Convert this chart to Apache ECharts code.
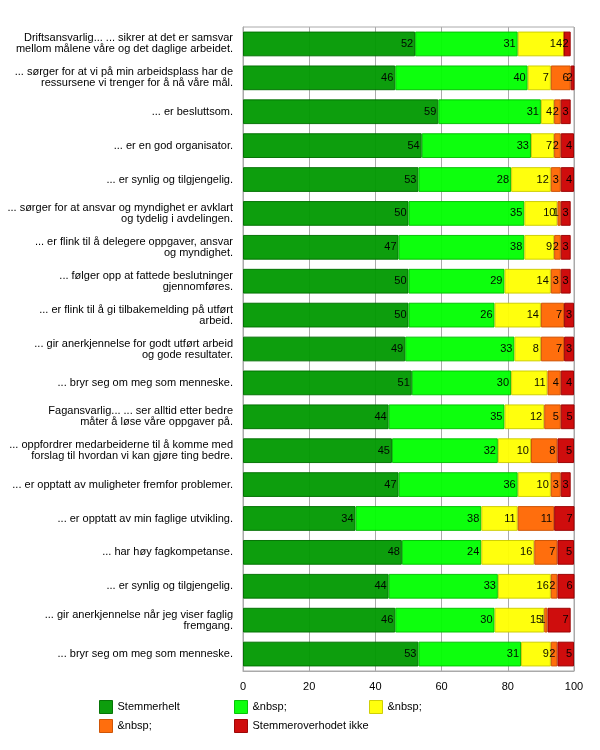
<!DOCTYPE html>
<html>
<head>
<meta charset="utf-8">
<script src="https://cdn.jsdelivr.net/npm/echarts@6/dist/echarts.min.js"></script>
<style>html,body{margin:0;padding:0;background:#fff}#c{width:600px;height:750px}</style>
</head>
<body>
<div id="c"></div>
<script>
const categories = [
  "Driftsansvarlig... ... sikrer at det er samsvar\nmellom målene våre og det daglige arbeidet.",
  "... sørger for at vi på min arbeidsplass har de\nressursene vi trenger for å nå våre mål.",
  "... er besluttsom.",
  "... er en god organisator.",
  "... er synlig og tilgjengelig.",
  "... sørger for at ansvar og myndighet er avklart\nog tydelig i avdelingen.",
  "... er flink til å delegere oppgaver, ansvar\nog myndighet.",
  "... følger opp at fattede beslutninger\ngjennomføres.",
  "... er flink til å gi tilbakemelding på utført\narbeid.",
  "... gir anerkjennelse for godt utført arbeid\nog gode resultater.",
  "... bryr seg om meg som menneske.",
  "Fagansvarlig... ... ser alltid etter bedre\nmåter å løse våre oppgaver på.",
  "... oppfordrer medarbeiderne til å komme med\nforslag til hvordan vi kan gjøre ting bedre.",
  "... er opptatt av muligheter fremfor problemer.",
  "... er opptatt av min faglige utvikling.",
  "... har høy fagkompetanse.",
  "... er synlig og tilgjengelig.",
  "... gir anerkjennelse når jeg viser faglig\nfremgang.",
  "... bryr seg om meg som menneske."
];
const stemmerHelt   = [52,46,59,54,53,50,47,50,50,49,51,44,45,47,34,48,44,46,53];
const level2        = [31,40,31,33,28,35,38,29,26,33,30,35,32,36,38,24,33,30,31];
const level3        = [14, 7, 4, 7,12,10, 9,14,14, 8,11,12,10,10,11,16,16,15, 9];
const level4        = [ 0, 6, 2, 2, 3, 1, 2, 3, 7, 7, 4, 5, 8, 3,11, 7, 2, 1, 2];
const stemmerIkke   = [ 2, 2, 3, 4, 4, 3, 3, 3, 3, 3, 4, 5, 5, 3, 7, 5, 6, 7, 5];
const xTicks = [0,20,40,60,80,100];
const legendNames = ["Stemmerhelt","&nbsp;","&nbsp;","&nbsp;","Stemmeroverhodet ikke"];

const FONT = "'Liberation Sans Narrow', 'Liberation Sans', Arial, sans-serif";
const seriesDefs = [
  {id:'s1', data: stemmerHelt, color:'#009900', border:'#007000'},
  {id:'s2', data: level2,      color:'#00ff00', border:'#00c000'},
  {id:'s3', data: level3,      color:'#ffff00', border:'#cccc00'},
  {id:'s4', data: level4,      color:'#ff6600', border:'#cc5000'},
  {id:'s5', data: stemmerIkke, color:'#cc0000', border:'#990000'}
];
const nameMap = {};
seriesDefs.forEach((s,i)=>{ nameMap[s.id] = legendNames[i]; });

const series = seriesDefs.map(s => ({
  type:'bar', name:s.id, stack:'all', data:s.data, barWidth:'73%',
  itemStyle:{color:s.color, borderColor:s.border, borderWidth:1, opacity:0.95},
  label:{show:true, position:'insideRight', distance:2, color:'#000',
    fontFamily:FONT, fontSize:11, formatter:p => p.value ? String(p.value) : ''},
  emphasis:{disabled:true}
}));

const legendPos = [[99,700],[234,700],[369,700],[99,719],[234,719]];
const legends = seriesDefs.map((s,i)=>({
  data:[s.id], left:legendPos[i][0], top:legendPos[i][1], padding:0,
  itemWidth:13, itemHeight:13, icon:'rect', selectedMode:false,
  itemStyle:{color:s.color, borderColor:s.border, borderWidth:1},
  formatter: n => nameMap[n],
  textStyle:{fontFamily:FONT, fontSize:11, color:'#000'}
}));

const chart = echarts.init(document.getElementById('c'), null, {renderer:'canvas'});
chart.setOption({
  animation:false,
  backgroundColor:'#fff',
  grid:{left:243, right:26, top:27, bottom:79, containLabel:false,
    show:true, borderColor:'#aaa', borderWidth:1, backgroundColor:'transparent'},
  xAxis:{type:'value', min:xTicks[0], max:xTicks[xTicks.length-1], interval:20,
    axisLine:{show:true, lineStyle:{color:'#aaa'}},
    axisTick:{show:false},
    axisLabel:{color:'#000', fontFamily:FONT, fontSize:11, margin:10},
    splitLine:{show:true, lineStyle:{color:'#aaa'}}},
  yAxis:{type:'category', inverse:true, data:categories,
    axisLine:{show:true, lineStyle:{color:'#aaa'}},
    axisTick:{show:false},
    axisLabel:{color:'#000', fontFamily:FONT, fontSize:11, lineHeight:11, margin:10, align:'right'}},
  legend:legends,
  series:series
});
</script>
</body>
</html>
